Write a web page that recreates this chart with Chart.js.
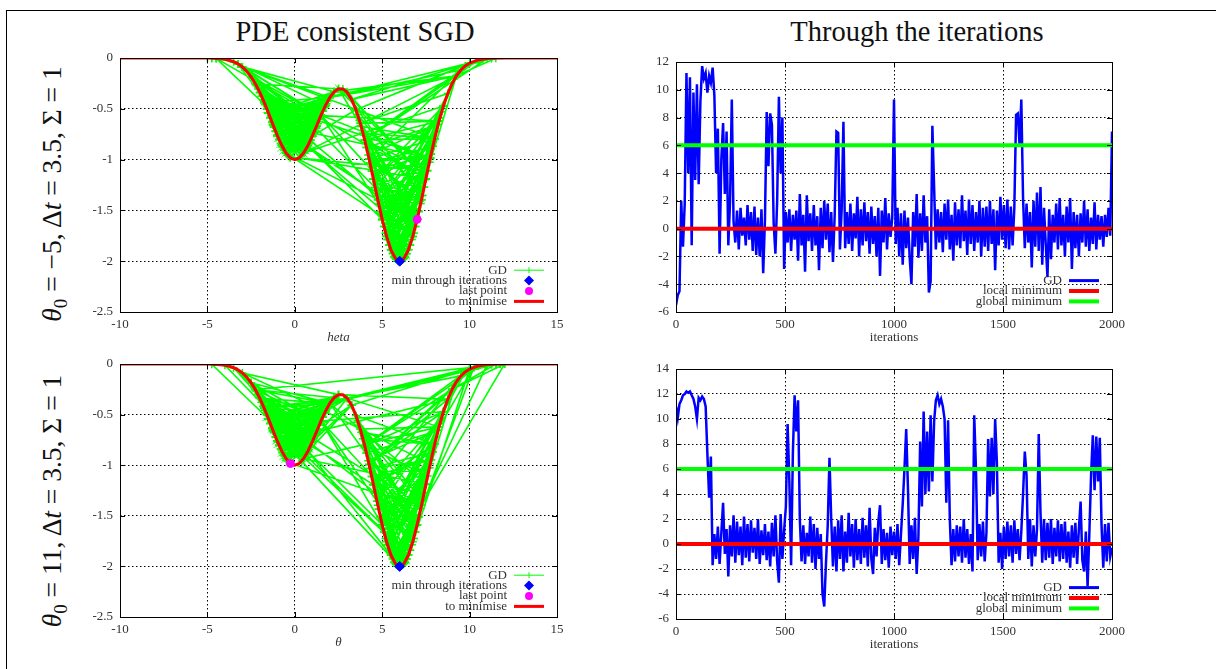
<!DOCTYPE html>
<html>
<head>
<meta charset="utf-8"/>
<script src="https://cdn.jsdelivr.net/npm/chart.js"></script>
<style>
  body { margin: 0; background: #fff; width: 1216px; height: 669px; overflow: hidden; position: relative; font-family: "Liberation Serif", serif; color: #111; }
  .frame { position: absolute; left: 6px; top: 10px; width: 1400px; height: 900px; border-left: 1px solid #000; border-top: 1px solid #000; }
  canvas { position: absolute; }
  .title { position: absolute; font-size: 28.5px; line-height: 28px; white-space: nowrap; transform: translateX(-50%); }
  .rowlabel { position: absolute; font-size: 27.5px; white-space: nowrap; transform: translate(-50%, -50%) rotate(-90deg); }
  .rowlabel sub { font-size: 19px; }
</style>
</head>
<body>
<div class="frame"></div>
<div class="title" style="left:355px; top:18px;">PDE consistent SGD</div>
<div class="title" style="left:917px; top:18px;">Through the iterations</div>
<div class="rowlabel" style="left:54px; top:194px;"><i>θ</i><sub>0</sub> = −5, Δ<i>t</i> = 3.5, Σ = 1</div>
<div class="rowlabel" style="left:54px; top:501px;"><i>θ</i><sub>0</sub> = 11, Δ<i>t</i> = 3.5, Σ = 1</div>

<canvas id="topLeft"></canvas>
<canvas id="topRight"></canvas>
<canvas id="bottomLeft"></canvas>
<canvas id="bottomRight"></canvas>

<script>
// ----------------------------
// data
// ----------------------------

// function to minimise (red curve)
const curveTheta = [-10, -9, -8, -7, -6, -5.5, -5, -4.75, -4.5, -4.25, -4, -3.75, -3.5, -3.25, -3,
  -2.75, -2.5, -2.25, -2, -1.75, -1.5, -1.25, -1, -0.75, -0.5, -0.25, 0,
  0.25, 0.5, 0.75, 1, 1.25, 1.5, 1.75, 2, 2.25, 2.5, 2.75, 3,
  3.25, 3.5, 3.75, 4, 4.25, 4.5, 4.75, 5, 5.25, 5.5, 5.75, 6,
  6.25, 6.5, 6.75, 7, 7.25, 7.5, 7.75, 8, 8.25, 8.5, 8.75, 9,
  9.25, 9.5, 9.75, 10, 10.5, 11, 11.5, 12, 13, 14, 15];
const curveValue = [0, 0, 0, 0, 0, 0, -0.001, -0.002, -0.004, -0.008, -0.013, -0.022, -0.037, -0.058, -0.088,
  -0.13, -0.185, -0.255, -0.339, -0.437, -0.544, -0.656, -0.763, -0.859, -0.935, -0.983, -1,
  -0.984, -0.936, -0.862, -0.769, -0.667, -0.563, -0.469, -0.389, -0.333, -0.303, -0.304, -0.338,
  -0.407, -0.509, -0.643, -0.807, -0.994, -1.193, -1.396, -1.589, -1.756, -1.888, -1.971, -2,
  -1.971, -1.888, -1.756, -1.588, -1.394, -1.189, -0.986, -0.794, -0.621, -0.472, -0.349, -0.25,
  -0.174, -0.118, -0.078, -0.05, -0.019, -0.006, -0.002, 0, 0, 0, 0];

// GD iterates drawn on the curve, theta0 = -5
const gdTopTheta = [
  -5, -4.75, -4.5, -4.75, -4.25, -3.25, 1.75, -1.5, 1.5, -3, 2,
  11, 4, 10.5, 3.5, 10, 3.25, 9.25, 11.5, 10.75, 11.25, 9.75, 4.25, 7.25, 2.75, 7.5, 5, 7.75, -1.75, 5, 7.5, 2.5, 7, -1.25, 2, 9.25,
  0.5, -1, 1.25, -1.5, 1.5, -0.5, 0.75, -1.25, 1.75, -0.75, 1, -1.75, 1.25, -2, 0.5, -1, 1.5, -3.25, 0.5,
  8.5, 4.5, 8.25, 7.5, 0.25, -1.75, 2, 9.5, 4, 8, -3,
  1.25, -1, 1.5, -1.5, 1, -0.75, 1.25, -2.25, 2.5, -1.25, 1, -3, 2.25, -1.5, 1.75, -1.75, 1.25, -2.5, 1.5,
  7, 6.75, -1.5, 1.5, 7.75, -1.25, 1.75, -1, 2,
  9.25, 5.25, 7.25, 4.75, 6.5, 5.5, 8, 4.25, 7.75, 5, 8.25, 3.75, 6.25, 5.75, 7, 4.5, 8.5, 5.25, 6.75,
  -0.5, 1, -1.25, 0.75, -4.5, 7.5, 3, -1.5, 1.25, -0.25,
  1.5, -1.75, 1, -1.25, 2.25, -0.75, 1.5, -2, 0.75, -1.5,
  8.25, 4, 7.5, 5.5, 8.5, 4.5, 7.25, 6, 9.25, 2.25,
  -1.25, 1.75, -1, 1.25, -3.5, 1.5, -1.5, 2, -0.5, 1,
  3.5, 8, 4.75, 7.75, 4.25, 6.75, 3.75, 8.75, 5, 7,
  -1.3, 1.1, -0.9, 1.6, -1.7, 0.6, -1.1, 1.9, -0.7, 1.3, -1.9, 0.9, -1.4, 1.7, -0.6, 1.2, -1.6, 0.8, -1.2, 1.4,
  -2.1, 1.0, -0.8, 1.8, -1.0, 0.7, -1.5, 1.6, -0.5, 1.1, -1.8, 1.3, -1.1, 2.1, -1.4, 0.9, -2.0, 1.5, -0.9, 1.2,
  4.6, 7.3, 5.2, 7.8, 4.3, 6.9, 5.6, 7.5, 4.9, 8.1, 5.4, 6.6, 4.1, 7.1, 5.8, 8.3, 4.7, 6.4, 5.1, 7.7,
  4.4, 7.0, 5.5, 8.0, 3.9, 6.8, 5.3, 7.4, 4.8, 6.2, 5.0, 7.9, 4.5, 6.7, 5.7, 7.2, 4.2, 8.2, 5.9, 6.5,
  1.5, -1.2, 0.8, -1.7, 1.4, -0.4, 1.0, -1.5, 1.8, -1.0, 0.5, -1.3, 1.6, -0.8, 1.3, -1.9, 0.7, -1.1, 1.7, -1.6,
  0.9, -0.6, 1.9, -1.4, 1.1, -2.2, 1.2, -0.7, 1.5, -1.8, 0.6, -1.2, 2.0, -1.3, 0.4, -1.0, 1.4, -1.5, 1.0, -0.3,
  7.6, 4.0, 6.3, 5.2, 8.4, 4.6, 7.0, 3.7, 6.9, 5.5, 7.9, 4.3, 6.1, 5.0, 8.5, 4.8, 7.3, 3.6, 6.6, 5.7,
  7.8, 4.4, 6.8, 5.4, 8.2, 4.1, 7.1, 5.9, 7.7, 4.9, 6.4, 3.8, 8.0, 5.3, 7.4, 4.5, 6.0, 5.1, 8.3, 4.7,
  -1.75, 1.5, -1, 1.25, -2.25, 0.5, -1.25, 1.75, -0.5, 7];
const gdTopY = [
  -0.001, -0.002, -0.004, -0.002, -0.008, -0.058, -0.469, -0.544, -0.563, -0.088, -0.389,
  -0.006, -0.807, -0.019, -0.509, -0.05, -0.407, -0.174, -0.002, -0.011, -0.004, -0.078, -0.994, -1.394, -0.304, -1.189, -1.589, -0.986, -0.437, -1.589, -1.189, -0.303, -1.588, -0.656, -0.389, -0.174,
  -0.936, -0.763, -0.667, -0.544, -0.563, -0.935, -0.862, -0.656, -0.469, -0.859, -0.769, -0.437, -0.667, -0.339, -0.936, -0.763, -0.563, -0.058, -0.936,
  -0.472, -1.193, -0.621, -1.189, -0.984, -0.437, -0.389, -0.118, -0.807, -0.794, -0.088,
  -0.667, -0.763, -0.563, -0.544, -0.769, -0.859, -0.667, -0.255, -0.303, -0.656, -0.769, -0.088, -0.333, -0.544, -0.469, -0.437, -0.667, -0.185, -0.563,
  -1.588, -1.756, -0.544, -0.563, -0.986, -0.656, -0.469, -0.763, -0.389,
  -0.174, -1.756, -1.394, -1.396, -1.888, -1.888, -0.794, -0.994, -0.986, -1.589, -0.621, -0.643, -1.971, -1.971, -1.588, -1.193, -0.472, -1.756, -1.756,
  -0.935, -0.769, -0.656, -0.862, -0.004, -1.189, -0.338, -0.544, -0.667, -0.983,
  -0.563, -0.437, -0.769, -0.656, -0.333, -0.859, -0.563, -0.339, -0.862, -0.544,
  -0.621, -0.807, -1.189, -1.888, -0.472, -1.193, -1.394, -2, -0.174, -0.333,
  -0.656, -0.469, -0.763, -0.667, -0.037, -0.563, -0.544, -0.389, -0.935, -0.769,
  -0.509, -0.794, -1.396, -0.986, -0.994, -1.756, -0.643, -0.349, -1.589, -1.588,
  -0.633, -0.729, -0.803, -0.524, -0.458, -0.909, -0.721, -0.419, -0.876, -0.645, -0.377, -0.808, -0.589, -0.486, -0.907, -0.688, -0.501, -0.845, -0.678, -0.604,
  -0.304, -0.769, -0.841, -0.451, -0.763, -0.879, -0.544, -0.524, -0.935, -0.729, -0.417, -0.645, -0.721, -0.364, -0.589, -0.808, -0.339, -0.563, -0.803, -0.688,
  -1.275, -1.354, -1.725, -0.946, -1.033, -1.659, -1.927, -1.189, -1.514, -0.722, -1.840, -1.840, -0.880, -1.512, -1.982, -0.589, -1.357, -1.927, -1.659, -1.026,
  -1.112, -1.588, -1.888, -0.794, -0.738, -1.725, -1.786, -1.272, -1.436, -1.982, -1.589, -0.869, -1.193, -1.786, -1.959, -1.434, -0.955, -0.654, -1.995, -1.888,
  -0.563, -0.678, -0.845, -0.458, -0.604, -0.958, -0.769, -0.544, -0.451, -0.763, -0.936, -0.633, -0.524, -0.841, -0.645, -0.377, -0.879, -0.721, -0.486, -0.501,
  -0.808, -0.907, -0.419, -0.589, -0.729, -0.270, -0.688, -0.876, -0.563, -0.417, -0.909, -0.678, -0.389, -0.633, -0.959, -0.763, -0.604, -0.544, -0.769, -0.976,
  -1.107, -0.807, -1.959, -1.725, -0.529, -1.275, -1.588, -0.614, -1.659, -1.888, -0.869, -1.033, -1.995, -1.589, -0.472, -1.436, -1.354, -0.559, -1.840, -1.959,
  -0.946, -1.112, -1.725, -1.840, -0.654, -0.880, -1.512, -1.995, -1.026, -1.514, -1.927, -0.674, -0.794, -1.786, -1.272, -1.193, -2, -1.659, -0.589, -1.357,
  -0.437, -0.563, -0.763, -0.667, -0.255, -0.936, -0.656, -0.469, -0.935, -1.588];

// GD iterates drawn on the curve, theta0 = 11
const gdBottomTheta = [
  11, 10.25, 11.25, 11.5, 11.75, 12, 11.75, 11.5, 11, 10, 11.75, 11.5, 11.75, 11,
  7.25, 3.75, 7, -1.75, 0.75, -1.25, 1.5, -1.5, 1, 3.25, -0.75, 1.25, -2.5, 1.5, -1, 2.25, -1.5, 1.75, -1, 1.5,
  -1.75, 2.25, -1, 1.25, -1.25, 2, -1.5, 1.75, -3, 2.5, -1.25, 1, 3, 9.5, 5, -1.75, 7.25, 12, 9, 11.5, 2,
  -1.5, 1.5, -1.5, 1, -1, 2.25, -1.5, 1.5, -2, 1.25, -1.25, 0.75, -4, -4.75, -1.5, 1.5, 7, 2,
  -1.75, 1.5, -2.25, 2, -1.25, 2.25, -2.25, 1, -1.5, 2.5, -1, 1.5, -2, 2, -1.25, 1.5, -1.75, 3, -1.25, -2.5, 1.25, -1, 1.75, 3, -1.5, 1.25, -1.25, 1, -1.75, 0.75,
  3.25, 6, 9.25, 4.5, -1.5, 1.5, -1, 2, -2.5, 0.5,
  8.25, 3, 10.5, 4, 9, 4.25, 10.25, 5, 9.75, 11.5, 12, 11.25, 11.5, 11, 10, 3.25, 10, 2,
  -1.75, 1.25, -1.5, 1.5, -1, 2, -2.25, 10.25, 6, -1.25, 1.5,
  8.5, 4, 8.5, 4, 10, 6.5, -1.5, 1.5, -1.25, 2, 7.5, 0.5, -1, 8.75, 2.5,
  -1.5, 1.75, -2, 1.25, -1.25, 1, -3.5, 0.75, 5.5, 8.75, 4.25, 8.5, 5, 1.5, -1.75, 1.75,
  7.75, 4.75, 7.25, 5.25, 8, 4.5, 6.75, 5.75, 7.5, 5, 8.25, 3.75, 6.25, 4.25, 7, 3.5, 8, 5.5, 9, 4,
  7.6, 4.0, 6.3, 5.2, 8.4, 4.6, 7.0, 3.7, 6.9, 5.5, 7.9, 4.3, 6.1, 5.0, 8.5, 4.8, 7.3, 3.6, 6.6, 5.7,
  7.8, 4.4, 6.8, 5.4, 8.2, 4.1, 7.1, 5.9, 7.7, 4.9, 6.4, 3.8, 8.0, 5.3, 7.4, 4.5, 6.0, 5.1, 8.3, 4.7,
  1.5, -1.2, 0.8, -1.7, 1.4, -0.4, 1.0, -1.5, 1.8, -1.0, 0.5, -1.3, 1.6, -0.8, 1.3, -1.9, 0.7, -1.1, 1.7, -1.6,
  0.9, -0.6, 1.9, -1.4, 1.1, -2.2, 1.2, -0.7, 1.5, -1.8, 0.6, -1.2, 2.0, -1.3, 0.4, -1.0, 1.4, -1.5, 1.0, -0.3,
  4.6, 7.3, 5.2, 7.8, 4.3, 6.9, 5.6, 7.5, 4.9, 8.1, 5.4, 6.6, 4.1, 7.1, 5.8, 8.3, 4.7, 6.4, 5.1, 7.7,
  4.4, 7.0, 5.5, 8.0, 3.9, 6.8, 5.3, 7.4, 4.8, 6.2, 5.0, 7.9, 4.5, 6.7, 5.7, 7.2, 4.2, 8.2, 5.9, 6.5,
  -1.3, 1.1, -0.9, 1.6, -1.7, 0.6, -1.1, 1.9, -0.7, 1.3, -1.9, 0.9, -1.4, 1.7, -0.6, 1.2, -1.6, 0.8, -1.2, 1.4,
  -2.1, 1.0, -0.8, 1.8, -1.0, 0.7, -1.5, 1.6, -0.5, 1.1, -1.8, 1.3, -1.1, 2.1, -1.4, 0.9, -2.0, 1.5, -0.9, 1.2,
  -1.5, 1.25, -1, 1.5, -2, 0.75, -0.5, 1, -1.25, -0.25];
const gdBottomY = [
  -0.006, -0.031, -0.004, -0.002, -0.001, 0, -0.001, -0.002, -0.006, -0.05, -0.001, -0.002, -0.001, -0.006,
  -1.394, -0.643, -1.588, -0.437, -0.862, -0.656, -0.563, -0.544, -0.769, -0.407, -0.859, -0.667, -0.185, -0.563, -0.763, -0.333, -0.544, -0.469, -0.763, -0.563,
  -0.437, -0.333, -0.763, -0.667, -0.656, -0.389, -0.544, -0.469, -0.088, -0.303, -0.656, -0.769, -0.338, -0.118, -1.589, -0.437, -1.394, 0, -0.25, -0.002, -0.389,
  -0.544, -0.563, -0.544, -0.769, -0.763, -0.333, -0.544, -0.563, -0.339, -0.667, -0.656, -0.862, -0.013, -0.002, -0.544, -0.563, -1.588, -0.389,
  -0.437, -0.563, -0.255, -0.389, -0.656, -0.333, -0.255, -0.769, -0.544, -0.303, -0.763, -0.563, -0.339, -0.389, -0.656, -0.563, -0.437, -0.338, -0.656, -0.185, -0.667, -0.763, -0.469, -0.338, -0.544, -0.667, -0.656, -0.769, -0.437, -0.862,
  -0.407, -2, -0.174, -1.193, -0.544, -0.563, -0.763, -0.389, -0.185, -0.936,
  -0.621, -0.338, -0.019, -0.807, -0.25, -0.994, -0.031, -1.589, -0.078, -0.002, 0, -0.004, -0.002, -0.006, -0.05, -0.407, -0.05, -0.389,
  -0.437, -0.667, -0.544, -0.563, -0.763, -0.389, -0.255, -0.031, -2, -0.656, -0.563,
  -0.472, -0.807, -0.472, -0.807, -0.05, -1.888, -0.544, -0.563, -0.656, -0.389, -1.189, -0.936, -0.763, -0.349, -0.303,
  -0.544, -0.469, -0.339, -0.667, -0.656, -0.769, -0.037, -0.862, -1.888, -0.349, -0.994, -0.472, -1.589, -0.563, -0.437, -0.469,
  -0.986, -1.396, -1.394, -1.756, -0.794, -1.193, -1.756, -1.971, -1.189, -1.589, -0.621, -0.643, -1.971, -0.994, -1.588, -0.509, -0.794, -1.888, -0.25, -0.807,
  -1.107, -0.807, -1.959, -1.725, -0.529, -1.275, -1.588, -0.614, -1.659, -1.888, -0.869, -1.033, -1.995, -1.589, -0.472, -1.436, -1.354, -0.559, -1.840, -1.959,
  -0.946, -1.112, -1.725, -1.840, -0.654, -0.880, -1.512, -1.995, -1.026, -1.514, -1.927, -0.674, -0.794, -1.786, -1.272, -1.193, -2, -1.659, -0.589, -1.357,
  -0.563, -0.678, -0.845, -0.458, -0.604, -0.958, -0.769, -0.544, -0.451, -0.763, -0.936, -0.633, -0.524, -0.841, -0.645, -0.377, -0.879, -0.721, -0.486, -0.501,
  -0.808, -0.907, -0.419, -0.589, -0.729, -0.270, -0.688, -0.876, -0.563, -0.417, -0.909, -0.678, -0.389, -0.633, -0.959, -0.763, -0.604, -0.544, -0.769, -0.976,
  -1.275, -1.354, -1.725, -0.946, -1.033, -1.659, -1.927, -1.189, -1.514, -0.722, -1.840, -1.840, -0.880, -1.512, -1.982, -0.589, -1.357, -1.927, -1.659, -1.026,
  -1.112, -1.588, -1.888, -0.794, -0.738, -1.725, -1.786, -1.272, -1.436, -1.982, -1.589, -0.869, -1.193, -1.786, -1.959, -1.434, -0.955, -0.654, -1.995, -1.888,
  -0.633, -0.729, -0.803, -0.524, -0.458, -0.909, -0.721, -0.419, -0.876, -0.645, -0.377, -0.808, -0.589, -0.486, -0.907, -0.688, -0.501, -0.845, -0.678, -0.604,
  -0.304, -0.769, -0.841, -0.451, -0.763, -0.879, -0.544, -0.524, -0.935, -0.729, -0.417, -0.645, -0.721, -0.364, -0.589, -0.808, -0.339, -0.563, -0.803, -0.688,
  -0.544, -0.667, -0.763, -0.563, -0.339, -0.862, -0.935, -0.769, -0.656, -0.983];

// theta through the iterations, one value every ITER_STEP iterations
const ITER_STEP = 8;
const thetaTop = [
  -5.5, -4.8, -4.5, 2.0, -1.3, 1.8, 11.2, 4.0, 10.9, -1.2,
  9.8, 3.5, 10.4, 3.2, 9.2, 11.7, 10.8, 11.2, 9.8, 11.0,
  10.5, 11.6, 9.6, 4.0, 7.2, -1.8, 5.0, 7.6, 2.5, 7.0,
  -1.2, 2.0, 9.3, 0.5, -1.0, 1.3, -1.5, 1.5, -0.5, 0.8,
  -1.2, 1.7, -0.8, 1.2, -1.6, 1.6, -1.9, 0.8, -2.0, 1.4,
  -3.2, 0.6, 8.4, 4.5, 8.3, 7.5, 0.4, -1.8, 2.0, 9.5,
  4.0, 8.0, -2.9, 1.2, -1.0, 1.4, -1.6, 1.0, -0.8, 1.3,
  -2.3, 2.5, -1.2, 1.0, -3.1, 2.4, -0.9, 1.1, -1.6, 1.7,
  -1.2, 0.9, -3.0, 1.5, -1.4, 2.0, -0.8, 1.8, -1.7, 1.2,
  -2.4, 1.0, 7.0, 6.9, -1.5, 1.4, 7.7, -1.4, 1.2, -1.1,
  1.8, -1.6, 1.1, -0.7, 2.3, -2.0, 1.4, -1.2, 1.9, -0.9,
  1.2, -1.8, 1.6, -1.1, 0.9, -2.0, 1.5, -3.4, 1.3, -1.0,
  2.2, -1.5, 1.1, -0.6, 0.8, 9.3, -1.1, 1.5, -2.0, 1.1,
  -2.6, 1.3, -1.4, 0.8, -2.1, -4.0, 1.2, -1.3, 2.5, -2.1,
  1.1, -1.6, 2.4, -1.0, 0.9, -4.6, -3.8, 7.4, 3.0, -1.5,
  1.4, -1.0, 1.2, -1.7, 1.8, -0.8, 2.1, -1.5, 1.0, -2.3,
  1.9, -1.2, 1.4, -1.4, 2.4, -0.9, 1.3, -1.9, 2.1, -1.1,
  1.7, -1.6, 1.2, -1.0, 2.0, -2.0, 1.5, -1.3, 1.6, -1.6,
  2.0, -1.1, 1.4, -3.0, 1.3, -1.2, 2.3, -0.8, 1.7, -1.4,
  2.1, -1.5, 1.6, -1.2, 1.5, 8.2, 8.3, 6.0, 9.3, 2.2,
  -1.4, 1.8, -1.0, 1.2, -2.8, 2.0, -1.3, 2.6, -1.6, 3.0,
  -2.6, 1.5, -1.1, -3.5, 1.4, -2.2, 1.0, -1.0, 1.8, -1.5,
  2.2, -1.2, 1.0, -2.0, 1.6, -1.0, 2.2, -2.9, 1.2, -1.4,
  1.0, -2.0, 1.1, -1.0, 2.0, -1.3, 1.4, -1.6, 0.8, -1.1,
  1.9, -1.5, 1.0, -0.8, 0.9, -1.3, 1.0, -0.6, 1.5, -0.5,
  7.0];
const thetaBottom = [
  11.0, 10.1, 11.2, 11.5, 11.9, 12.0, 12.2, 12.1, 12.2, 11.9,
  11.6, 11.0, 10.0, 11.7, 11.5, 11.8, 11.6, 11.0, 7.2, 3.7,
  7.0, -1.7, 0.8, -1.2, 1.4, -1.6, 0.9, 3.3, -0.8, 1.2,
  -2.6, 1.5, -1.0, 2.3, -1.5, 1.8, -0.9, 1.4, -1.7, 2.2,
  -1.1, 1.6, -1.4, 1.9, -0.7, 1.3, -1.2, 2.0, -1.6, 1.1,
  -0.9, 1.6, -1.3, 1.0, -1.8, 1.7, -1.0, 2.3, -1.4, -3.1,
  2.4, -1.2, 1.1, 3.0, 9.6, 5.0, -1.7, 7.2, 11.9, 9.0,
  11.5, 2.0, -1.4, 1.5, -1.6, 0.9, -1.0, 2.2, -1.5, 1.6,
  -2.0, 1.3, -1.2, 0.8, -4.0, -5.0, -1.5, 1.5, 6.9, 2.0,
  -1.8, 1.4, -2.2, 1.9, -1.2, 2.3, -2.2, 1.0, -1.5, 2.5,
  -1.0, 1.6, -1.9, 2.0, -1.3, 1.2, -1.6, 2.1, -1.1, 1.5,
  -1.8, 2.9, -1.2, -2.4, 1.3, -1.0, 1.8, 3.1, -1.6, 1.2,
  -1.3, 0.9, -1.9, 1.4, -0.9, 1.0, -1.2, 1.6, -1.7, 0.8,
  3.2, 6.0, 9.2, 4.5, -1.6, 1.5, -1.2, 2.1, -2.4, 0.6,
  8.2, 3.0, 10.6, 4.0, 9.0, 4.2, 10.3, 5.0, 9.8, 11.5,
  11.9, 11.2, 11.6, 11.0, 10.0, 3.3, 9.9, 2.0, -1.7, 1.2,
  -1.4, 1.5, -1.0, 1.4, -1.5, 2.0, -1.1, 1.2, -1.6, 0.8,
  -2.2, 10.3, 6.0, -1.3, 1.6, -1.0, 1.8, -1.4, 0.9, 8.4,
  3.8, 8.5, 4.0, 10.0, 6.5, -1.5, 0.9, -2.0, 1.4, -1.2,
  1.8, -1.0, 1.5, -1.5, 1.9, -0.8, 1.2, -1.3, 1.0, 4.0,
  7.4, 5.5, -1.2, 2.0, -1.8, 1.5, -1.0, 1.2, 8.8, 2.5,
  -1.5, 2.0, -1.3, 1.7, -1.1, 2.0, -1.6, 1.3, -1.0, 1.9,
  -1.4, 1.6, -1.2, 1.8, -1.5, 1.0, -1.9, 1.5, -1.1, 1.7,
  -1.6, 1.2, 3.4, -1.3, -2.2, 1.0, -3.4, 0.8, 5.5, 8.7,
  4.3, 8.6, 5.0, 8.5, 1.5, -1.9, 1.6, -1.4, 1.7, -1.0,
  -0.3];

const LOCAL_MIN = 0;
const GLOBAL_MIN = 6;

// axis ticks
const thetaTicks = { min: -10, max: 15, step: 5 };
const fTicks = { min: -2.5, max: 0, step: 0.5 };
const iterTicks = { min: 0, max: 2000, step: 500 };
const thetaTopTicks = { min: -6, max: 12, step: 2 };
const thetaBottomTicks = { min: -6, max: 14, step: 2 };

// ----------------------------
// look
// ----------------------------
const RED = '#ff0000', GREEN = '#00ff00', BLUE = '#0000ff', MAGENTA = '#ff00ff';
const TEXT = '#333';
const SERIF = '"Liberation Serif", serif';
const PAD = { left: 60, top: 15, right: 20, bottom: 36 };

const pts = (xs, ys) => xs.map((x, i) => ({ x: x, y: ys[i] }));

function minPoint(xs, ys) {
  let k = 0;
  ys.forEach((v, i) => { if (v < ys[k]) k = i; });
  return { x: xs[k], y: ys[k] };
}

function placeCanvas(id, plot) {
  const c = document.getElementById(id);
  const w = plot.r - plot.l + PAD.left + PAD.right;
  const h = plot.b - plot.t + PAD.top + PAD.bottom;
  c.width = w; c.height = h;
  c.style.left = (plot.l - PAD.left) + 'px';
  c.style.top = (plot.t - PAD.top) + 'px';
  c.style.width = w + 'px'; c.style.height = h + 'px';
  return c;
}

// gnuplot style border, inward ticks and the key in the lower right corner
function gnuFrame(entries) {
  return {
    id: 'gnuFrame',
    afterDatasetsDraw(chart) {
      const { ctx, chartArea: a, scales } = chart;
      ctx.save();
      ctx.strokeStyle = '#000';
      ctx.lineWidth = 1;
      ctx.beginPath();
      scales.x.ticks.forEach(t => {
        const px = Math.round(scales.x.getPixelForValue(t.value)) + 0.5;
        ctx.moveTo(px, a.bottom); ctx.lineTo(px, a.bottom - 5);
        ctx.moveTo(px, a.top); ctx.lineTo(px, a.top + 5);
      });
      scales.y.ticks.forEach(t => {
        const py = Math.round(scales.y.getPixelForValue(t.value)) + 0.5;
        ctx.moveTo(a.left, py); ctx.lineTo(a.left + 5, py);
        ctx.moveTo(a.right, py); ctx.lineTo(a.right - 5, py);
      });
      ctx.stroke();
      ctx.strokeRect(Math.round(a.left) + 0.5, Math.round(a.top) + 0.5, Math.round(a.width), Math.round(a.height));

      // key
      const n = entries.length;
      ctx.font = '13px ' + SERIF;
      ctx.textAlign = 'right';
      ctx.textBaseline = 'middle';
      entries.forEach((e, i) => {
        const y = a.bottom - 10.6 - (n - 1 - i) * 10.4;
        ctx.fillStyle = TEXT;
        ctx.fillText(e.label, a.right - 50, y);
        const x0 = a.right - 43, x1 = a.right - 13, xc = (x0 + x1) / 2;
        ctx.strokeStyle = e.color;
        ctx.fillStyle = e.color;
        if (e.kind === 'line' || e.kind === 'cross') {
          ctx.lineWidth = e.width;
          ctx.beginPath(); ctx.moveTo(x0, y); ctx.lineTo(x1, y); ctx.stroke();
        }
        if (e.kind === 'cross') {
          ctx.lineWidth = 1;
          ctx.beginPath(); ctx.moveTo(xc, y - 3); ctx.lineTo(xc, y + 3); ctx.stroke();
        }
        if (e.kind === 'diamond') {
          ctx.beginPath(); ctx.moveTo(xc, y - 5); ctx.lineTo(xc + 5, y); ctx.lineTo(xc, y + 5); ctx.lineTo(xc - 5, y); ctx.closePath(); ctx.fill();
        }
        if (e.kind === 'circle') {
          ctx.beginPath(); ctx.arc(xc, y, 4, 0, Math.PI * 2); ctx.fill();
        }
      });
      ctx.restore();
    }
  };
}

function axis(t, extra) {
  return Object.assign({
    type: 'linear',
    min: t.min, max: t.max,
    ticks: { stepSize: t.step, color: TEXT, font: { family: SERIF, size: 13 }, autoSkip: false, maxRotation: 0,
      callback: v => String(+v.toFixed(1)) },
    grid: { color: '#000', lineWidth: 1, drawTicks: false },
    border: { display: false, dash: [1.5, 2.5] }
  }, extra);
}

function baseOptions(xT, yT, xTitle, italic) {
  const x = axis(xT, {
    title: { display: true, text: xTitle, color: TEXT, padding: { top: 0, bottom: 3 },
      font: { family: SERIF, size: 13, style: italic ? 'italic' : 'normal' } },
    afterFit: s => { s.height = PAD.bottom; }
  });
  x.ticks.padding = 5;
  const y = axis(yT, { afterFit: s => { s.width = PAD.left; } });
  y.ticks.padding = 7;
  return {
    responsive: false,
    animation: false,
    events: [],
    layout: { padding: { left: 0, top: PAD.top, right: PAD.right, bottom: 0 } },
    plugins: { legend: { display: false }, tooltip: { enabled: false } },
    scales: { x: x, y: y }
  };
}

function curvePanel(id, plot, gdTheta, gdY, xTitle) {
  const canvas = placeCanvas(id, plot);
  const last = gdTheta.length - 1;
  new Chart(canvas, {
    type: 'scatter',
    data: {
      datasets: [
        { label: 'GD', data: pts(gdTheta, gdY), showLine: true, borderColor: GREEN, borderWidth: 1.6,
          pointStyle: 'cross', pointRadius: 4, pointBorderColor: GREEN, pointBorderWidth: 1.5, order: 3 },
        { label: 'to minimise', data: pts(curveTheta, curveValue), showLine: true, borderColor: RED,
          borderWidth: 3, pointRadius: 0, order: 2 },
        { label: 'min through iterations', data: [minPoint(gdTheta, gdY)], pointStyle: 'rectRot', pointRadius: 5,
          backgroundColor: BLUE, borderColor: BLUE, order: 1 },
        { label: 'last point', data: [{ x: gdTheta[last], y: gdY[last] }], pointStyle: 'circle', pointRadius: 4,
          backgroundColor: MAGENTA, borderColor: MAGENTA, order: 0 }
      ]
    },
    options: baseOptions(thetaTicks, fTicks, xTitle, true),
    plugins: [gnuFrame([
      { label: 'GD', kind: 'cross', color: GREEN, width: 1 },
      { label: 'min through iterations', kind: 'diamond', color: BLUE },
      { label: 'last point', kind: 'circle', color: MAGENTA },
      { label: 'to minimise', kind: 'line', color: RED, width: 3 }
    ])]
  });
}

function iterPanel(id, plot, theta, yT) {
  const canvas = placeCanvas(id, plot);
  const iters = theta.map((_, i) => i * ITER_STEP);
  new Chart(canvas, {
    type: 'scatter',
    data: {
      datasets: [
        { label: 'GD', data: pts(iters, theta), showLine: true, borderColor: BLUE, borderWidth: 2.5, pointRadius: 0, order: 2 },
        { label: 'local minimum', data: pts([iterTicks.min, iterTicks.max], [LOCAL_MIN, LOCAL_MIN]), showLine: true,
          borderColor: RED, borderWidth: 4, pointRadius: 0, order: 1 },
        { label: 'global minimum', data: pts([iterTicks.min, iterTicks.max], [GLOBAL_MIN, GLOBAL_MIN]), showLine: true,
          borderColor: GREEN, borderWidth: 4, pointRadius: 0, order: 0 }
      ]
    },
    options: baseOptions(iterTicks, yT, 'iterations', false),
    plugins: [gnuFrame([
      { label: 'GD', kind: 'line', color: BLUE, width: 3 },
      { label: 'local minimum', kind: 'line', color: RED, width: 4 },
      { label: 'global minimum', kind: 'line', color: GREEN, width: 4 }
    ])]
  });
}

curvePanel('topLeft', { l: 120, t: 58, r: 557, b: 312 }, gdTopTheta, gdTopY, 'heta');
curvePanel('bottomLeft', { l: 120, t: 364, r: 557, b: 617 }, gdBottomTheta, gdBottomY, 'θ');
iterPanel('topRight', { l: 676, t: 62, r: 1112, b: 312 }, thetaTop, thetaTopTicks);
iterPanel('bottomRight', { l: 676, t: 369, r: 1112, b: 619 }, thetaBottom, thetaBottomTicks);
</script>
</body>
</html>
